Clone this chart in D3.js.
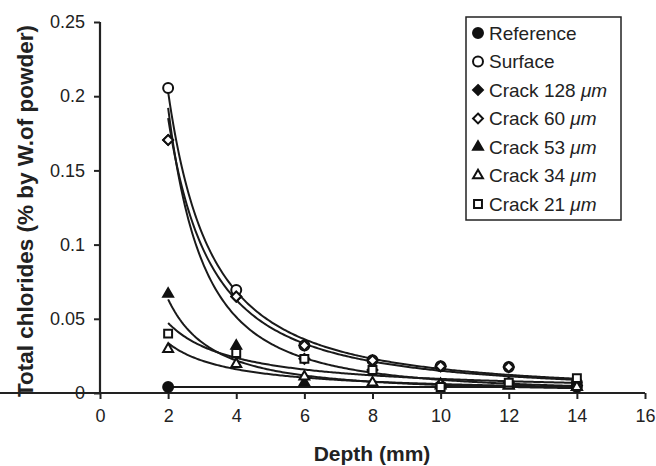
<!DOCTYPE html>
<html>
<head>
<meta charset="utf-8">
<script src="https://cdn.jsdelivr.net/npm/d3@7"></script>
<style>
  html, body { margin: 0; padding: 0; background: #fff; }
  svg { display: block; font-family: "Liberation Sans", Arial, sans-serif; }
</style>
</head>
<body>
<svg id="chart" width="656" height="466"></svg>
<script>
const depths = [2, 4, 6, 8, 10, 12, 14];
const seriesNames = ["Reference", "Surface", "Crack 128 ", "Crack 60 ", "Crack 53 ", "Crack 34 ", "Crack 21 "];
const seriesUnits = ["", "", "μm", "μm", "μm", "μm", "μm"];
const seriesSymbols = ["circle", "circle", "diamond", "diamond", "triangle", "triangle", "square"];
const seriesFilled = [true, false, true, false, true, false, false];
const reference = [0.004, null, null, null, null, null, 0.004];
const surface   = [0.2055, 0.0694, 0.032, 0.022, 0.018, 0.0175, 0.007];
const crack128  = [0.1705, 0.065, 0.023, 0.0155, 0.006, 0.007, 0.005];
const crack60   = [0.1705, 0.065, 0.032, 0.022, 0.018, 0.0175, 0.005];
const crack53   = [0.0667, 0.0317, 0.007, 0.006, 0.005, 0.005, 0.004];
const crack34   = [0.0296, 0.0195, 0.011, 0.007, 0.006, 0.005, 0.004];
const crack21   = [0.040, 0.027, 0.023, 0.0155, 0.004, 0.007, 0.010];
const xTicks = [0, 2, 4, 6, 8, 10, 12, 14, 16];
const yTicks = [0, 0.05, 0.1, 0.15, 0.2, 0.25];
const yTickLabels = ["0", "0.05", "0.1", "0.15", "0.2", "0.25"];
const xTitle = "Depth (mm)";
const yTitle = "Total chlorides (% by W.of powder)";

const allSeries = [reference, surface, crack128, crack60, crack53, crack34, crack21];

// ---- layout ----
const svg = d3.select("#chart");
const x = d3.scaleLinear().domain([0, 16]).range([100, 645]);
const y = d3.scaleLinear().domain([0, 0.25]).range([393, 22]);

// power trendline (least squares in log-log space, like a spreadsheet "power" trendline)
function powerFit(xs, ys) {
  const pts = xs.map((v, i) => [v, ys[i]]).filter(p => p[1] != null);
  const lx = pts.map(p => Math.log(p[0])), ly = pts.map(p => Math.log(p[1]));
  const mx = d3.mean(lx), my = d3.mean(ly);
  let num = 0, den = 0;
  lx.forEach((v, i) => { num += (v - mx) * (ly[i] - my); den += (v - mx) * (v - mx); });
  const b = den === 0 ? 0 : num / den;
  const a = Math.exp(my - b * mx);
  return { f: t => a * Math.pow(t, b), lo: d3.min(pts, p => p[0]), hi: d3.max(pts, p => p[0]) };
}

// ---- axes ----
const xAxis = d3.axisBottom(x).tickValues(xTicks).tickSize(6).tickPadding(10).tickFormat(d3.format("d"));
const yAxis = d3.axisLeft(y).tickValues(yTicks).tickSize(6).tickPadding(9).tickFormat((d, i) => yTickLabels[i]);

const gx = svg.append("g").attr("transform", `translate(0,${y(0)})`).call(xAxis);
const gy = svg.append("g").attr("transform", `translate(${x(0)},0)`).call(yAxis);
[gx, gy].forEach(g => {
  g.select(".domain").attr("stroke", "#222").attr("stroke-width", 2.2);
  g.selectAll(".tick line").attr("stroke", "#222").attr("stroke-width", 2);
  g.selectAll(".tick text").attr("fill", "#222").style("font-size", "18px").style("font-family", "Liberation Sans, Arial, sans-serif");
});
gy.select(".domain").attr("d", `M0,${y(0)}V${y(0.25)}`);
gx.select(".domain").attr("d", `M0,0H${x(16)}`);

svg.append("text").attr("x", 372).attr("y", 461).attr("text-anchor", "middle")
  .style("font-size", "21px").style("font-weight", "bold").attr("fill", "#222").text(xTitle);
svg.append("text").attr("transform", "translate(33,211) rotate(-90)").attr("text-anchor", "middle")
  .style("font-size", "22.5px").style("font-weight", "bold").attr("fill", "#222").text(yTitle);

// ---- trendlines ----
const line = d3.line().x(d => x(d[0])).y(d => y(d[1]));
allSeries.forEach(vals => {
  const fit = powerFit(depths, vals);
  const samples = d3.range(fit.lo, fit.hi + 0.001, 0.05);
  svg.append("path").datum(samples.map(t => [t, fit.f(t)]))
    .attr("d", line).attr("fill", "none").attr("stroke", "#1a1a1a").attr("stroke-width", 2);
});

// ---- markers ----
const symMap = {
  circle: d3.symbol().type(d3.symbolCircle).size(78),
  diamond: d3.symbol().type(d3.symbolDiamond2).size(62),
  triangle: d3.symbol().type(d3.symbolTriangle2).size(70),
  square: d3.symbol().type(d3.symbolSquare2).size(80)
};
function drawMarker(g, sym, filled, cx, cy) {
  g.append("path").attr("d", symMap[sym]())
    .attr("transform", `translate(${cx},${cy})`)
    .attr("fill", filled ? "#111" : "#fff")
    .attr("stroke", "#111").attr("stroke-width", 2);
}
const mg = svg.append("g");
allSeries.forEach((vals, si) => {
  vals.forEach((v, i) => { if (v != null) drawMarker(mg, seriesSymbols[si], seriesFilled[si], x(depths[i]), y(v)); });
});

// ---- legend ----
const lg = svg.append("g");
lg.append("rect").attr("x", 466).attr("y", 17).attr("width", 155).attr("height", 203)
  .attr("fill", "#fff").attr("stroke", "#222").attr("stroke-width", 1.5);
seriesNames.forEach((name, i) => {
  const cy = 33 + i * 28.5;
  drawMarker(lg, seriesSymbols[i], seriesFilled[i], 478, cy);
  const t = lg.append("text").attr("x", 489).attr("y", cy + 6.5)
    .style("font-size", "19px").attr("fill", "#222");
  t.append("tspan").text(name);
  if (seriesUnits[i]) t.append("tspan").style("font-style", "italic").text(seriesUnits[i]);
});
</script>
</body>
</html>
